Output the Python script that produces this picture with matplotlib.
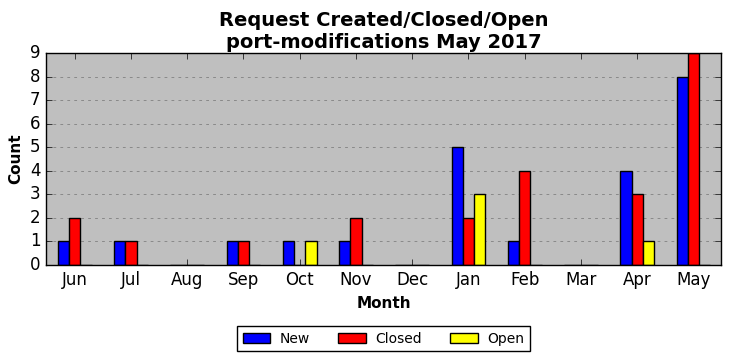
import numpy as np
import matplotlib
matplotlib.use("Agg")
import matplotlib.pyplot as plt

plt.style.use('classic')

months = ['Jun', 'Jul', 'Aug', 'Sep', 'Oct', 'Nov', 'Dec', 'Jan', 'Feb', 'Mar', 'Apr', 'May']
new = [1, 1, 0, 1, 1, 1, 0, 5, 1, 0, 4, 8]
closed = [2, 1, 0, 1, 0, 2, 0, 2, 4, 0, 3, 9]
opened = [0, 0, 0, 0, 1, 0, 0, 3, 0, 0, 1, 0]

ind = np.arange(len(months))
width = 0.2

fig = plt.figure(figsize=(7.31, 3.61), dpi=100, facecolor='white')
ax = fig.add_axes([46/731, 1-265/361, 675/731, 212/361])
ax.set_facecolor('#bfbfbf')

ax.bar(ind, new, width, align='edge', color='blue', edgecolor='black', label='New')
ax.bar(ind + width, closed, width, align='edge', color='red', edgecolor='black', label='Closed')
ax.bar(ind + 2*width, opened, width, align='edge', color='yellow', edgecolor='black', label='Open')

ax.set_xlim(-0.21, 11.79)
ax.set_ylim(0, 9)
ax.set_yticks(range(10))
ax.set_xticks(ind + 0.3)
ax.set_xticklabels(months)
ax.tick_params(labelsize=12)
ax.yaxis.grid(True, linestyle=(0, (2, 3)), color='0.5', linewidth=0.6)
ax.set_axisbelow(True)

ax.set_xlabel('Month', fontsize=11, fontweight='bold')
ax.set_ylabel('Count', fontsize=11, fontweight='bold')
ax.set_title('Request Created/Closed/Open\nport-modifications May 2017', fontsize=14, fontweight='bold', y=0.99)

ax.legend(loc='upper center', bbox_to_anchor=(0.5, -0.256), ncol=3, fontsize=10,
          handlelength=2.0, handletextpad=0.7, columnspacing=2.0, fancybox=False, framealpha=1)

fig.savefig('out.png', dpi=100, facecolor='white')
